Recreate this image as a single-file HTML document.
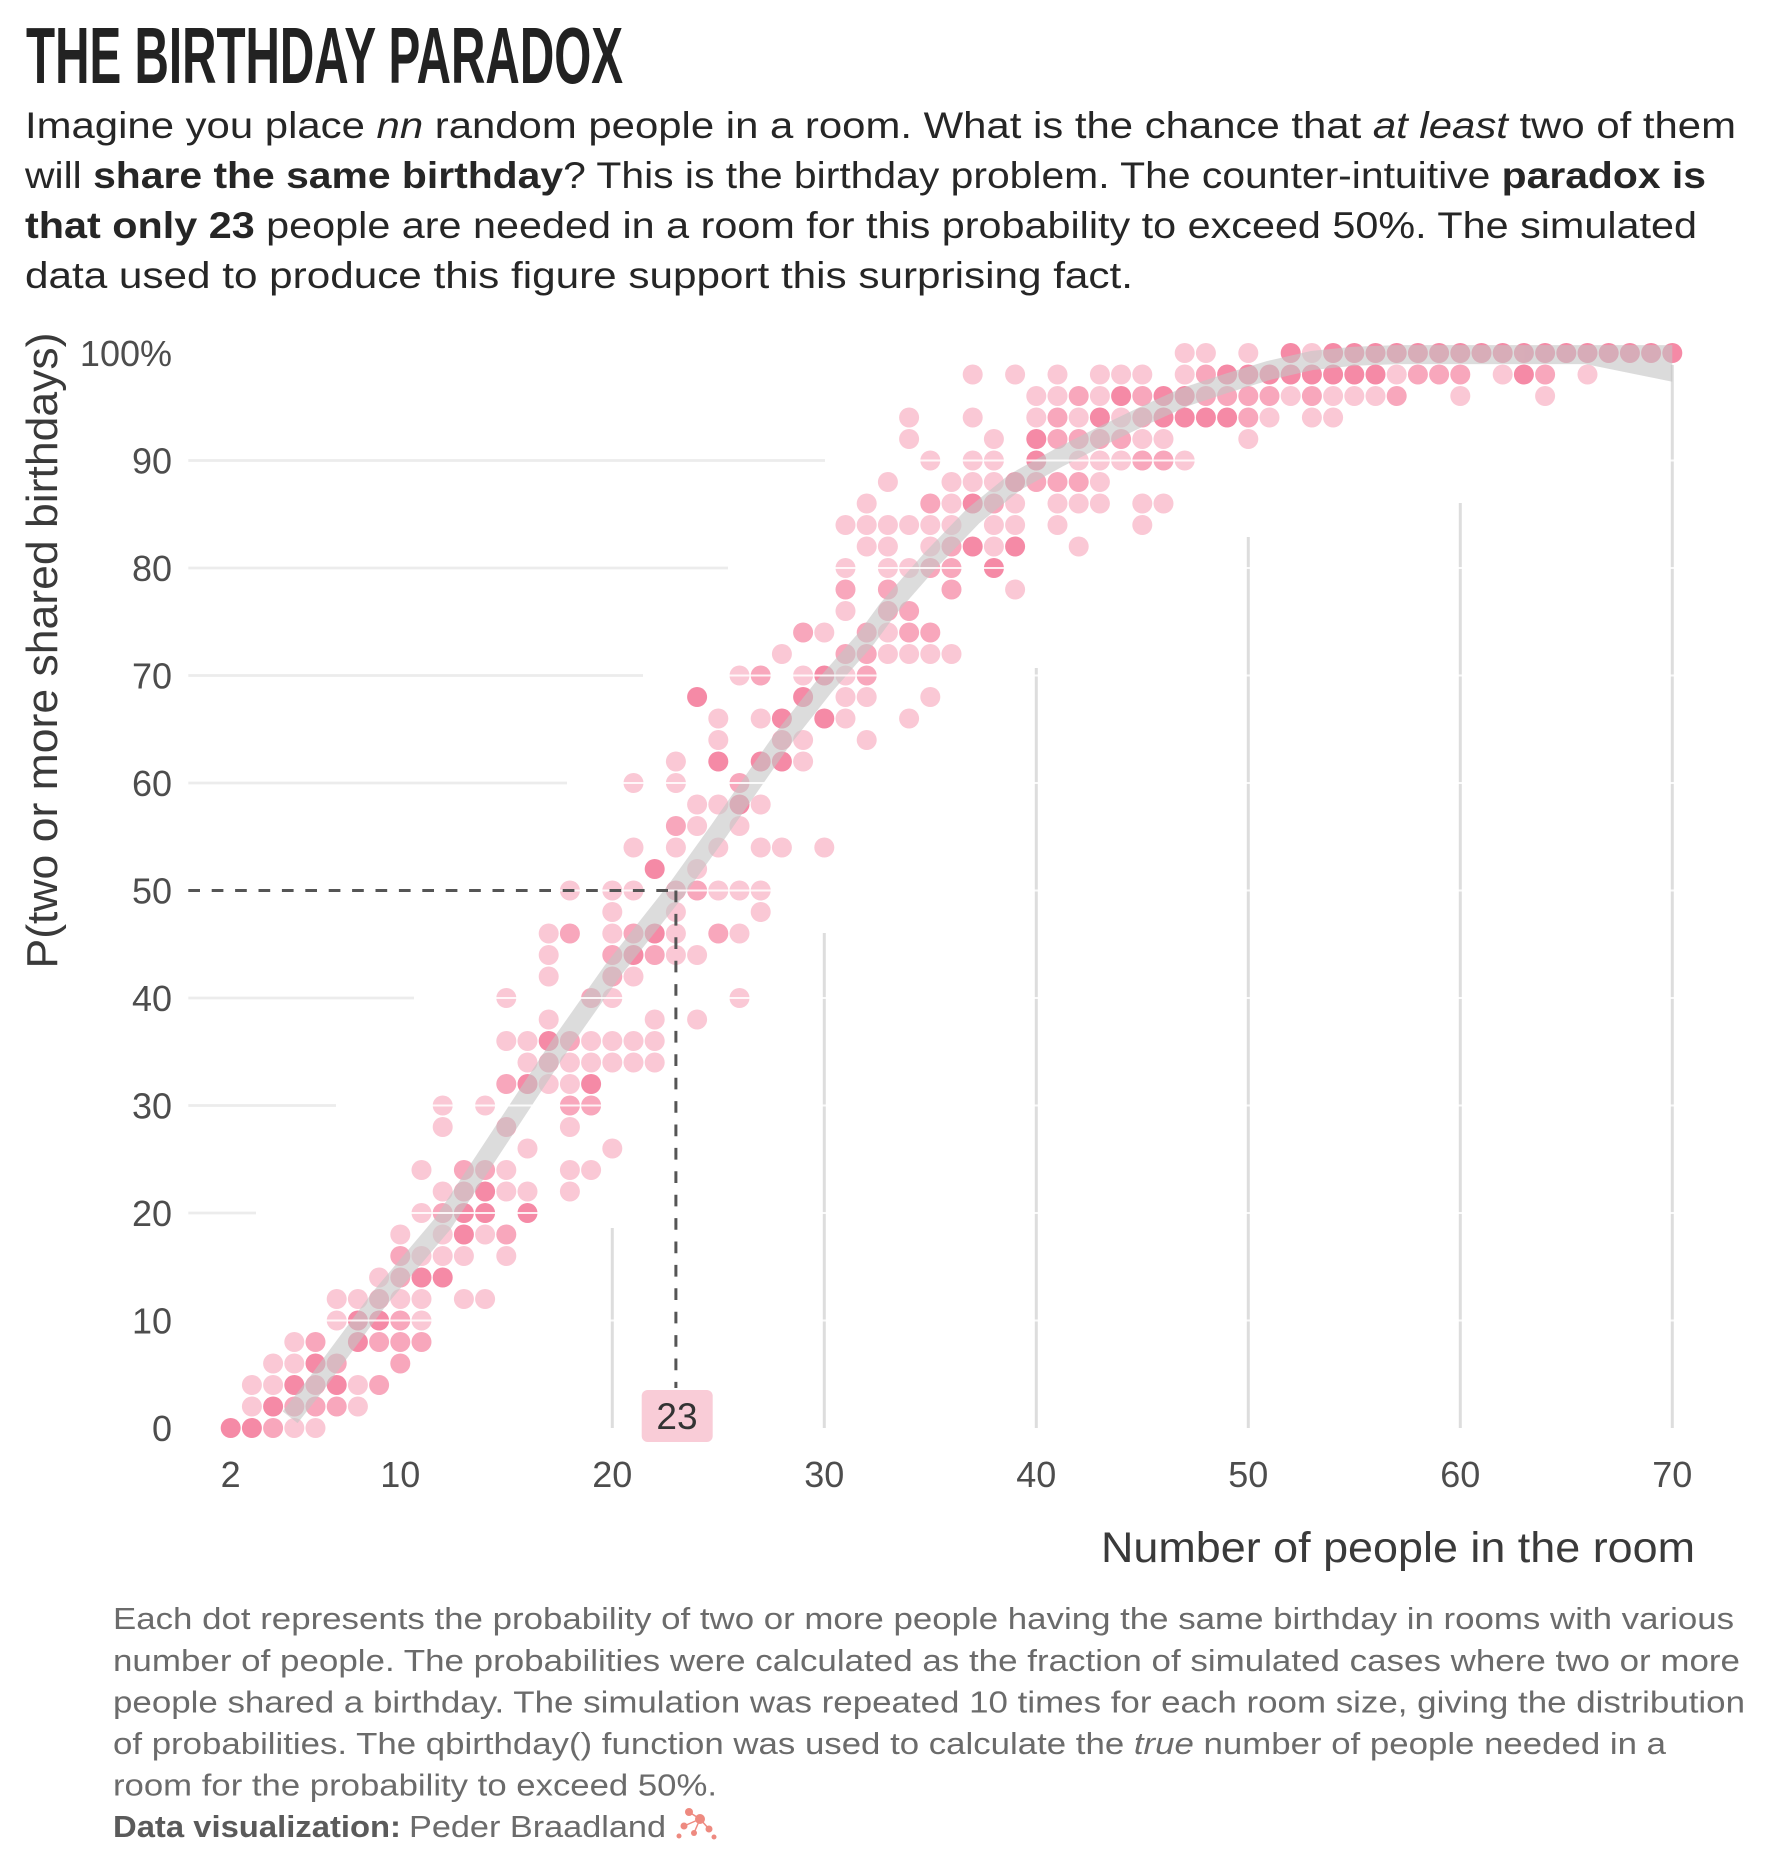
<!DOCTYPE html>
<html><head><meta charset="utf-8"><style>
html,body{margin:0;padding:0;background:#fff;}
svg{display:block;font-family:"Liberation Sans",Arial,sans-serif;}
</style></head><body>
<svg width="1771" height="1870" viewBox="0 0 1771 1870" xmlns="http://www.w3.org/2000/svg">
<defs>
<ellipse id="a" rx="0.4717" ry="0.9302" fill="#f47d9c" fill-opacity="0.42"/>
<ellipse id="b" rx="0.4717" ry="0.9302" fill="#f47d9c" fill-opacity="0.68"/>
<ellipse id="c" rx="0.4717" ry="0.9302" fill="#f47d9c" fill-opacity="0.9"/>
</defs>
<rect width="1771" height="1870" fill="#fff"/>

<!-- title -->
<text x="26" y="83" font-size="80" font-weight="bold" fill="#222" textLength="597" lengthAdjust="spacingAndGlyphs">THE BIRTHDAY PARADOX</text>

<!-- subtitle -->
<g font-size="37" fill="#262626">
<text x="25" y="138" textLength="1711" lengthAdjust="spacingAndGlyphs">Imagine you place <tspan font-style="italic">nn</tspan> random people in a room. What is the chance that <tspan font-style="italic">at least</tspan> two of them</text>
<text x="25" y="188" textLength="1681" lengthAdjust="spacingAndGlyphs">will <tspan font-weight="bold">share the same birthday</tspan>? This is the birthday problem. The counter-intuitive <tspan font-weight="bold">paradox is</tspan></text>
<text x="25" y="238" textLength="1672" lengthAdjust="spacingAndGlyphs"><tspan font-weight="bold">that only 23</tspan> people are needed in a room for this probability to exceed 50%. The simulated</text>
<text x="25" y="288" textLength="1108" lengthAdjust="spacingAndGlyphs">data used to produce this figure support this surprising fact.</text>
</g>

<!-- vertical gridlines -->
<g stroke="#dddddd" stroke-width="3">
<line x1="612.3" y1="1228" x2="612.3" y2="1428"/>
<line x1="824.3" y1="933" x2="824.3" y2="1428"/>
<line x1="1036.3" y1="668" x2="1036.3" y2="1428"/>
<line x1="1248.3" y1="537" x2="1248.3" y2="1428"/>
<line x1="1460.3" y1="503" x2="1460.3" y2="1428"/>
<line x1="1672.3" y1="365" x2="1672.3" y2="1428"/>
</g>

<!-- dots -->
<g transform="translate(188.3,1428) scale(21.2,-10.75)">
<use href="#c" x="2" y="0"/>
<use href="#c" x="3" y="0"/><use href="#a" x="3" y="2"/><use href="#a" x="3" y="4"/>
<use href="#b" x="4" y="0"/><use href="#c" x="4" y="2"/><use href="#a" x="4" y="4"/><use href="#a" x="4" y="6"/>
<use href="#a" x="5" y="0"/><use href="#b" x="5" y="2"/><use href="#c" x="5" y="4"/><use href="#a" x="5" y="6"/><use href="#a" x="5" y="8"/>
<use href="#a" x="6" y="0"/><use href="#b" x="6" y="2"/><use href="#b" x="6" y="4"/><use href="#c" x="6" y="6"/><use href="#b" x="6" y="8"/>
<use href="#b" x="7" y="2"/><use href="#c" x="7" y="4"/><use href="#b" x="7" y="6"/><use href="#a" x="7" y="10"/><use href="#a" x="7" y="12"/>
<use href="#a" x="8" y="2"/><use href="#a" x="8" y="4"/><use href="#c" x="8" y="8"/><use href="#c" x="8" y="10"/><use href="#a" x="8" y="12"/>
<use href="#b" x="9" y="4"/><use href="#b" x="9" y="8"/><use href="#c" x="9" y="10"/><use href="#b" x="9" y="12"/><use href="#a" x="9" y="14"/>
<use href="#b" x="10" y="6"/><use href="#b" x="10" y="8"/><use href="#b" x="10" y="10"/><use href="#a" x="10" y="12"/><use href="#b" x="10" y="14"/><use href="#b" x="10" y="16"/><use href="#a" x="10" y="18"/>
<use href="#b" x="11" y="8"/><use href="#a" x="11" y="10"/><use href="#a" x="11" y="12"/><use href="#c" x="11" y="14"/><use href="#a" x="11" y="16"/><use href="#a" x="11" y="20"/><use href="#a" x="11" y="24"/>
<use href="#c" x="12" y="14"/><use href="#a" x="12" y="16"/><use href="#a" x="12" y="18"/><use href="#b" x="12" y="20"/><use href="#a" x="12" y="22"/><use href="#a" x="12" y="28"/><use href="#a" x="12" y="30"/>
<use href="#a" x="13" y="12"/><use href="#a" x="13" y="16"/><use href="#c" x="13" y="18"/><use href="#c" x="13" y="20"/><use href="#b" x="13" y="22"/><use href="#b" x="13" y="24"/>
<use href="#a" x="14" y="12"/><use href="#a" x="14" y="18"/><use href="#c" x="14" y="20"/><use href="#c" x="14" y="22"/><use href="#b" x="14" y="24"/><use href="#a" x="14" y="30"/>
<use href="#a" x="15" y="16"/><use href="#b" x="15" y="18"/><use href="#a" x="15" y="22"/><use href="#a" x="15" y="24"/><use href="#b" x="15" y="28"/><use href="#b" x="15" y="32"/><use href="#a" x="15" y="36"/><use href="#a" x="15" y="40"/>
<use href="#c" x="16" y="20"/><use href="#a" x="16" y="22"/><use href="#a" x="16" y="26"/><use href="#c" x="16" y="32"/><use href="#a" x="16" y="34"/><use href="#a" x="16" y="36"/>
<use href="#a" x="17" y="32"/><use href="#b" x="17" y="34"/><use href="#c" x="17" y="36"/><use href="#a" x="17" y="38"/><use href="#a" x="17" y="42"/><use href="#a" x="17" y="44"/><use href="#a" x="17" y="46"/>
<use href="#a" x="18" y="22"/><use href="#a" x="18" y="24"/><use href="#a" x="18" y="28"/><use href="#b" x="18" y="30"/><use href="#a" x="18" y="32"/><use href="#a" x="18" y="34"/><use href="#b" x="18" y="36"/><use href="#b" x="18" y="46"/><use href="#a" x="18" y="50"/>
<use href="#a" x="19" y="24"/><use href="#b" x="19" y="30"/><use href="#c" x="19" y="32"/><use href="#a" x="19" y="34"/><use href="#a" x="19" y="36"/><use href="#b" x="19" y="40"/>
<use href="#a" x="20" y="26"/><use href="#a" x="20" y="34"/><use href="#a" x="20" y="36"/><use href="#a" x="20" y="40"/><use href="#b" x="20" y="42"/><use href="#b" x="20" y="44"/><use href="#a" x="20" y="46"/><use href="#a" x="20" y="48"/><use href="#a" x="20" y="50"/>
<use href="#a" x="21" y="34"/><use href="#a" x="21" y="36"/><use href="#a" x="21" y="42"/><use href="#c" x="21" y="44"/><use href="#b" x="21" y="46"/><use href="#a" x="21" y="50"/><use href="#a" x="21" y="54"/><use href="#a" x="21" y="60"/>
<use href="#a" x="22" y="34"/><use href="#a" x="22" y="36"/><use href="#a" x="22" y="38"/><use href="#b" x="22" y="44"/><use href="#c" x="22" y="46"/><use href="#c" x="22" y="52"/>
<use href="#a" x="23" y="44"/><use href="#a" x="23" y="46"/><use href="#a" x="23" y="48"/><use href="#b" x="23" y="50"/><use href="#a" x="23" y="54"/><use href="#b" x="23" y="56"/><use href="#a" x="23" y="60"/><use href="#a" x="23" y="62"/>
<use href="#a" x="24" y="38"/><use href="#a" x="24" y="44"/><use href="#b" x="24" y="50"/><use href="#a" x="24" y="52"/><use href="#a" x="24" y="56"/><use href="#a" x="24" y="58"/><use href="#c" x="24" y="68"/>
<use href="#b" x="25" y="46"/><use href="#a" x="25" y="50"/><use href="#a" x="25" y="54"/><use href="#a" x="25" y="58"/><use href="#c" x="25" y="62"/><use href="#a" x="25" y="64"/><use href="#a" x="25" y="66"/>
<use href="#a" x="26" y="40"/><use href="#a" x="26" y="46"/><use href="#a" x="26" y="50"/><use href="#a" x="26" y="56"/><use href="#c" x="26" y="58"/><use href="#b" x="26" y="60"/><use href="#a" x="26" y="70"/>
<use href="#a" x="27" y="48"/><use href="#a" x="27" y="50"/><use href="#a" x="27" y="54"/><use href="#a" x="27" y="58"/><use href="#c" x="27" y="62"/><use href="#a" x="27" y="66"/><use href="#b" x="27" y="70"/>
<use href="#a" x="28" y="54"/><use href="#c" x="28" y="62"/><use href="#b" x="28" y="64"/><use href="#c" x="28" y="66"/><use href="#a" x="28" y="72"/>
<use href="#a" x="29" y="62"/><use href="#a" x="29" y="64"/><use href="#c" x="29" y="68"/><use href="#a" x="29" y="70"/><use href="#b" x="29" y="74"/>
<use href="#a" x="30" y="54"/><use href="#c" x="30" y="66"/><use href="#c" x="30" y="70"/><use href="#a" x="30" y="74"/>
<use href="#a" x="31" y="66"/><use href="#a" x="31" y="68"/><use href="#a" x="31" y="70"/><use href="#b" x="31" y="72"/><use href="#a" x="31" y="76"/><use href="#b" x="31" y="78"/><use href="#a" x="31" y="80"/><use href="#a" x="31" y="84"/>
<use href="#a" x="32" y="64"/><use href="#a" x="32" y="68"/><use href="#b" x="32" y="70"/><use href="#b" x="32" y="72"/><use href="#b" x="32" y="74"/><use href="#a" x="32" y="82"/><use href="#a" x="32" y="84"/><use href="#a" x="32" y="86"/>
<use href="#a" x="33" y="72"/><use href="#a" x="33" y="74"/><use href="#b" x="33" y="76"/><use href="#b" x="33" y="78"/><use href="#a" x="33" y="80"/><use href="#a" x="33" y="82"/><use href="#a" x="33" y="84"/><use href="#a" x="33" y="88"/>
<use href="#a" x="34" y="66"/><use href="#a" x="34" y="72"/><use href="#b" x="34" y="74"/><use href="#b" x="34" y="76"/><use href="#a" x="34" y="80"/><use href="#a" x="34" y="84"/><use href="#a" x="34" y="92"/><use href="#a" x="34" y="94"/>
<use href="#a" x="35" y="68"/><use href="#a" x="35" y="72"/><use href="#b" x="35" y="74"/><use href="#b" x="35" y="80"/><use href="#a" x="35" y="82"/><use href="#a" x="35" y="84"/><use href="#b" x="35" y="86"/><use href="#a" x="35" y="90"/>
<use href="#a" x="36" y="72"/><use href="#b" x="36" y="78"/><use href="#b" x="36" y="80"/><use href="#b" x="36" y="82"/><use href="#a" x="36" y="84"/><use href="#a" x="36" y="86"/><use href="#a" x="36" y="88"/>
<use href="#c" x="37" y="82"/><use href="#c" x="37" y="86"/><use href="#a" x="37" y="88"/><use href="#a" x="37" y="90"/><use href="#a" x="37" y="94"/><use href="#a" x="37" y="98"/>
<use href="#c" x="38" y="80"/><use href="#a" x="38" y="82"/><use href="#a" x="38" y="84"/><use href="#b" x="38" y="86"/><use href="#a" x="38" y="88"/><use href="#a" x="38" y="90"/><use href="#a" x="38" y="92"/>
<use href="#a" x="39" y="78"/><use href="#c" x="39" y="82"/><use href="#a" x="39" y="84"/><use href="#a" x="39" y="86"/><use href="#c" x="39" y="88"/><use href="#a" x="39" y="98"/>
<use href="#b" x="40" y="88"/><use href="#c" x="40" y="90"/><use href="#c" x="40" y="92"/><use href="#a" x="40" y="94"/><use href="#a" x="40" y="96"/>
<use href="#a" x="41" y="84"/><use href="#a" x="41" y="86"/><use href="#b" x="41" y="88"/><use href="#b" x="41" y="92"/><use href="#b" x="41" y="94"/><use href="#a" x="41" y="96"/><use href="#a" x="41" y="98"/>
<use href="#a" x="42" y="82"/><use href="#a" x="42" y="86"/><use href="#b" x="42" y="88"/><use href="#a" x="42" y="90"/><use href="#b" x="42" y="92"/><use href="#a" x="42" y="94"/><use href="#b" x="42" y="96"/>
<use href="#a" x="43" y="86"/><use href="#a" x="43" y="88"/><use href="#a" x="43" y="90"/><use href="#b" x="43" y="92"/><use href="#c" x="43" y="94"/><use href="#a" x="43" y="96"/><use href="#a" x="43" y="98"/>
<use href="#a" x="44" y="90"/><use href="#b" x="44" y="92"/><use href="#a" x="44" y="94"/><use href="#c" x="44" y="96"/><use href="#a" x="44" y="98"/>
<use href="#a" x="45" y="84"/><use href="#a" x="45" y="86"/><use href="#b" x="45" y="90"/><use href="#a" x="45" y="92"/><use href="#b" x="45" y="94"/><use href="#b" x="45" y="96"/><use href="#a" x="45" y="98"/>
<use href="#a" x="46" y="86"/><use href="#b" x="46" y="90"/><use href="#a" x="46" y="92"/><use href="#c" x="46" y="94"/><use href="#c" x="46" y="96"/>
<use href="#a" x="47" y="90"/><use href="#c" x="47" y="94"/><use href="#c" x="47" y="96"/><use href="#a" x="47" y="98"/><use href="#a" x="47" y="100"/>
<use href="#c" x="48" y="94"/><use href="#b" x="48" y="96"/><use href="#b" x="48" y="98"/><use href="#a" x="48" y="100"/>
<use href="#c" x="49" y="94"/><use href="#b" x="49" y="96"/><use href="#c" x="49" y="98"/>
<use href="#a" x="50" y="92"/><use href="#b" x="50" y="94"/><use href="#b" x="50" y="96"/><use href="#c" x="50" y="98"/><use href="#a" x="50" y="100"/>
<use href="#a" x="51" y="94"/><use href="#b" x="51" y="96"/><use href="#c" x="51" y="98"/>
<use href="#a" x="52" y="96"/><use href="#c" x="52" y="98"/><use href="#c" x="52" y="100"/>
<use href="#a" x="53" y="94"/><use href="#b" x="53" y="96"/><use href="#c" x="53" y="98"/><use href="#a" x="53" y="100"/>
<use href="#a" x="54" y="94"/><use href="#a" x="54" y="96"/><use href="#c" x="54" y="98"/><use href="#c" x="54" y="100"/>
<use href="#a" x="55" y="96"/><use href="#c" x="55" y="98"/><use href="#c" x="55" y="100"/>
<use href="#a" x="56" y="96"/><use href="#c" x="56" y="98"/><use href="#c" x="56" y="100"/>
<use href="#b" x="57" y="96"/><use href="#a" x="57" y="98"/><use href="#c" x="57" y="100"/>
<use href="#b" x="58" y="98"/><use href="#c" x="58" y="100"/>
<use href="#b" x="59" y="98"/><use href="#c" x="59" y="100"/>
<use href="#a" x="60" y="96"/><use href="#b" x="60" y="98"/><use href="#c" x="60" y="100"/>
<use href="#c" x="61" y="100"/>
<use href="#a" x="62" y="98"/><use href="#c" x="62" y="100"/>
<use href="#c" x="63" y="98"/><use href="#c" x="63" y="100"/>
<use href="#a" x="64" y="96"/><use href="#b" x="64" y="98"/><use href="#c" x="64" y="100"/>
<use href="#c" x="65" y="100"/>
<use href="#a" x="66" y="98"/><use href="#c" x="66" y="100"/>
<use href="#c" x="67" y="100"/><use href="#c" x="68" y="100"/><use href="#c" x="69" y="100"/><use href="#c" x="70" y="100"/>
</g>

<!-- smooth band -->
<g opacity="0.6">
<polyline fill="none" stroke="#c4c4c4" stroke-width="19" stroke-linejoin="round" stroke-linecap="butt"
points="290.1,1417.3 315.5,1385 379.1,1299 442.7,1223.8 506.3,1127 559.3,1046.4 612.3,971.1 675.9,890.5 718.3,831.4 781.9,740 824.3,686.3 866.7,637.9 887.9,608.9 930.3,560.5 972.7,516.4 1015.1,482 1057.5,458.4 1099.9,436.9 1142.3,416.4 1184.7,397.1 1227.1,383.1 1269.5,370.2 1311.9,360.5 1354.3,356.2 1396.7,354.6 1672.3,354.6"/>
<polygon fill="#c4c4c4" points="1585,364 1672.3,364 1672.3,381.7"/>
</g>

<!-- white grid stripes over dots -->
<g stroke="#ffffff" stroke-width="2" stroke-opacity="0.85">
<line x1="188" y1="460.5" x2="1694" y2="460.5"/>
<line x1="188" y1="568" x2="1694" y2="568"/>
<line x1="188" y1="675.5" x2="1694" y2="675.5"/>
<line x1="188" y1="783" x2="1694" y2="783"/>
<line x1="188" y1="890.5" x2="1694" y2="890.5"/>
<line x1="188" y1="998" x2="1694" y2="998"/>
<line x1="188" y1="1105.5" x2="1694" y2="1105.5"/>
<line x1="188" y1="1213" x2="1694" y2="1213"/>
<line x1="188" y1="1320.5" x2="1694" y2="1320.5"/>
</g>

<!-- gray horizontal grid segments -->
<g stroke="#ececec" stroke-width="2.7">
<line x1="188.3" y1="460.5" x2="825" y2="460.5"/>
<line x1="188.3" y1="568" x2="728" y2="568"/>
<line x1="188.3" y1="675.5" x2="643" y2="675.5"/>
<line x1="188.3" y1="783" x2="567" y2="783"/>
<line x1="188.3" y1="998" x2="414" y2="998"/>
<line x1="188.3" y1="1105.5" x2="336" y2="1105.5"/>
<line x1="188.3" y1="1213" x2="256" y2="1213"/>
</g>

<!-- dashed 50% reference -->
<g stroke="#555555" stroke-width="3" stroke-dasharray="11.7 11.7" fill="none">
<line x1="188.3" y1="890.5" x2="675.9" y2="890.5"/>
<line x1="675.9" y1="890.5" x2="675.9" y2="1388"/>
</g>
<rect x="641.7" y="1390" width="71" height="52" rx="6" ry="6" fill="#f9ccd7"/>
<text x="677" y="1429" font-size="37" fill="#333" text-anchor="middle">23</text>

<!-- y tick labels -->
<g font-size="36" fill="#4d4d4d" text-anchor="end">
<text x="172" y="366">100%</text>
<text x="172" y="473.5">90</text>
<text x="172" y="581">80</text>
<text x="172" y="688.5">70</text>
<text x="172" y="796">60</text>
<text x="172" y="903.5">50</text>
<text x="172" y="1011">40</text>
<text x="172" y="1118.5">30</text>
<text x="172" y="1226">20</text>
<text x="172" y="1333.5">10</text>
<text x="172" y="1441">0</text>
</g>

<!-- x tick labels -->
<g font-size="36" fill="#4d4d4d" text-anchor="middle">
<text x="230.7" y="1487">2</text>
<text x="400.3" y="1487">10</text>
<text x="612.3" y="1487">20</text>
<text x="824.3" y="1487">30</text>
<text x="1036.3" y="1487">40</text>
<text x="1248.3" y="1487">50</text>
<text x="1460.3" y="1487">60</text>
<text x="1672.3" y="1487">70</text>
</g>

<!-- axis titles -->
<text x="1101" y="1562" font-size="43" fill="#3a3a3a" textLength="594" lengthAdjust="spacingAndGlyphs">Number of people in the room</text>
<text transform="translate(57,650.5) rotate(-90)" font-size="44" fill="#3a3a3a" text-anchor="middle" textLength="636" lengthAdjust="spacingAndGlyphs">P(two or more shared birthdays)</text>

<!-- caption -->
<g font-size="31" fill="#6b6b6b">
<text x="113" y="1629" textLength="1621" lengthAdjust="spacingAndGlyphs">Each dot represents the probability of two or more people having the same birthday in rooms with various</text>
<text x="113" y="1671" textLength="1627" lengthAdjust="spacingAndGlyphs">number of people. The probabilities were calculated as the fraction of simulated cases where two or more</text>
<text x="113" y="1712.5" textLength="1632" lengthAdjust="spacingAndGlyphs">people shared a birthday. The simulation was repeated 10 times for each room size, giving the distribution</text>
<text x="113" y="1754" textLength="1553" lengthAdjust="spacingAndGlyphs">of probabilities. The qbirthday() function was used to calculate the <tspan font-style="italic">true</tspan> number of people needed in a</text>
<text x="113" y="1795.5" textLength="604" lengthAdjust="spacingAndGlyphs">room for the probability to exceed 50%.</text>
<text x="113" y="1837" textLength="288" lengthAdjust="spacingAndGlyphs" font-weight="bold" fill="#5a5a5a">Data visualization:</text>
<text x="409" y="1837" textLength="257" lengthAdjust="spacingAndGlyphs">Peder Braadland</text>
</g>

<!-- small icon -->
<g fill="#ee8a80">
<circle cx="689" cy="1812" r="4"/>
<circle cx="700" cy="1819" r="5"/>
<circle cx="684" cy="1826" r="3.5"/>
<circle cx="709" cy="1829" r="3.5"/>
<circle cx="694" cy="1833" r="3"/>
<circle cx="679" cy="1836" r="2.5"/>
<circle cx="714" cy="1837" r="2.5"/>
</g>
<g stroke="#ee8a80" stroke-width="1.5" fill="none">
<line x1="689" y1="1812" x2="700" y2="1819"/>
<line x1="700" y1="1819" x2="709" y2="1829"/>
<line x1="700" y1="1819" x2="684" y2="1826"/>
<line x1="694" y1="1833" x2="700" y2="1819"/>
</g>
</svg>
</body></html>
